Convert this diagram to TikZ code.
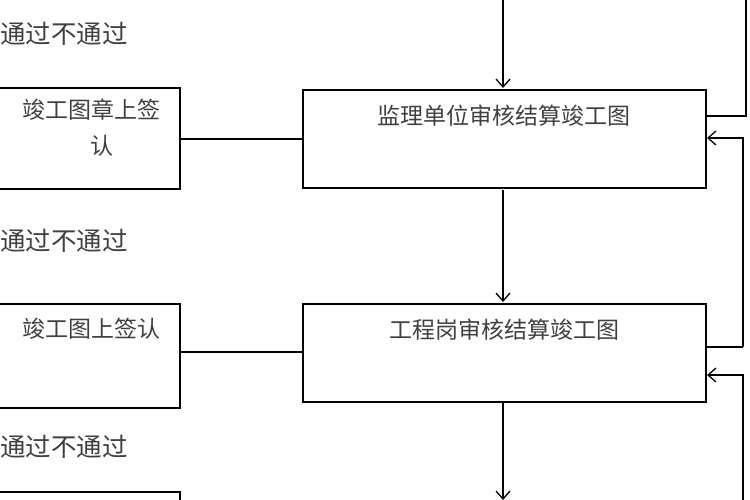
\documentclass[tikz,border=0pt]{standalone}
\usepackage{fontspec}
\newfontfamily\cjk{Noto Sans CJK SC}
\usetikzlibrary{arrows.meta}
\begin{document}
\begin{tikzpicture}[x=1pt,y=-1pt,
  box/.style={draw,line width=1.6pt,inner sep=0pt},
  txt/.style={font=\cjk\fontsize{23}{36}\selectfont,text=black!75,inner sep=0pt},
  big/.style={font=\cjk\fontsize{25.5}{30}\selectfont,text=black!75,inner sep=0pt},
  arr/.style={-{Straight Barb[length=8pt,width=14pt]},line width=1.3pt},
  ln/.style={line width=1.3pt}]
\useasboundingbox (0,0) rectangle (750,500);
\fill[white] (0,0) rectangle (750,500);
\draw[box] (303,90) rectangle (706,188);
\draw[box] (303,304) rectangle (706,402);
\draw[box] (-5,88) rectangle (180,189);
\draw[box] (-5,304) rectangle (180,408);
\draw[box] (-5,492) rectangle (180,520);
\node[txt] (m1) at (504,116) {监理单位审核结算竣工图};
\node[txt] (m2) at (504,330) {工程岗审核结算竣工图};
\node[txt,anchor=north west,align=left] (l1) at (22,99) {竣工图章上签\\\hspace*{68pt}认};
\node[txt,anchor=north west] (l2) at (22,318) {竣工图上签认};
\node[big,anchor=west] (t1) at (0,34) {通过不通过};
\node[big,anchor=west] (t2) at (0,241) {通过不通过};
\node[big,anchor=west] (t3) at (0,447) {通过不通过};
\draw[ln] (180,139) -- (303,139);
\draw[ln] (180,352) -- (303,352);
\draw[arr] (503,0) -- (503,88);
\draw[arr] (503,190) -- (503,302);
\draw[arr] (503,402) -- (503,500);
\draw[ln] (746,0) -- (746,116) -- (706,116);
\draw[arr] (743,347) -- (743,138) -- (707,138);
\draw[ln] (743,347) -- (706,347);
\draw[arr] (743,500) -- (743,375) -- (707,375);
\end{tikzpicture}
\end{document}
